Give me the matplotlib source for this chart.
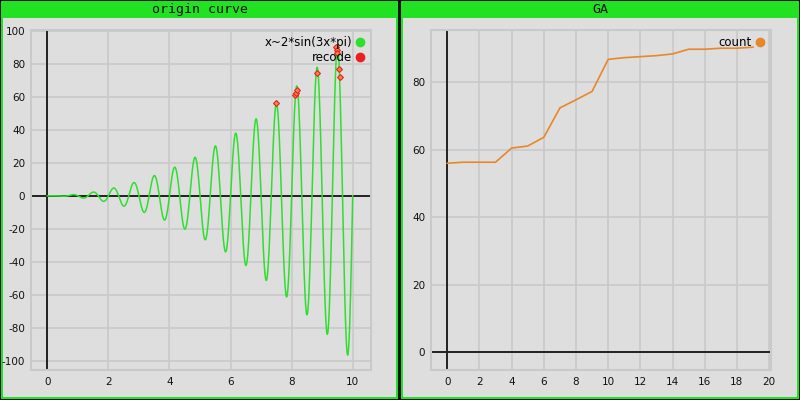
import numpy as np
import matplotlib
matplotlib.use("Agg")
import matplotlib.pyplot as plt
from matplotlib.patches import Rectangle
from matplotlib.lines import Line2D

plt.rcParams["axes.unicode_minus"] = False

# =========================================================
# DATA
# =========================================================
# left panel: the function named in the legend
curve_x = np.linspace(0, 10, 1000)
curve_y = curve_x ** 2 * np.sin(3 * curve_x * np.pi)

recode_x = [7.49, 8.12, 8.15, 8.19, 8.84, 9.44, 9.47, 9.49, 9.56, 9.58]
recode_y = [56.2, 61.0, 62.5, 64.0, 74.6, 90.0, 88.5, 86.5, 76.9, 72.2]

# right panel: GA best value per generation
ga_gen = list(range(20))
ga_count = [56.0, 56.3, 56.3, 56.3, 60.5, 61.1, 63.7, 72.4, 74.8, 77.3,
            86.8, 87.3, 87.6, 87.9, 88.4, 89.8, 89.8, 90.1, 90.1, 90.4]

W, H = 800, 400
GREEN = "#22e022"
BG = "#dedede"
GRID = "#c9c9c9"
AXIS = "#222222"


def px_box(x1, y1, x2, y2):
    # pixel box (top-left origin) -> figure fraction rect
    return (x1 / W, 1 - y2 / H), (x2 - x1) / W, (y2 - y1) / H


fig = plt.figure(figsize=(8, 4), dpi=100, facecolor="#111111")


def add_panel(x1, x2, title):
    xy, w, h = px_box(x1, 1, x2, 399)
    fig.patches.append(Rectangle(xy, w, h, transform=fig.transFigure,
                                 facecolor=GREEN, edgecolor="none", zorder=-2))
    xy, w, h = px_box(x1 + 2, 18, x2 - 2, 397)
    fig.patches.append(Rectangle(xy, w, h, transform=fig.transFigure,
                                 facecolor=BG, edgecolor="none", zorder=-1))
    fig.text((x1 + x2) / 2 / W, 1 - 9.5 / H, title, ha="center", va="center",
             family="DejaVu Sans Mono", fontsize=9.5, color="#111111")


add_panel(1, 398, "origin curve")
add_panel(401, 799, "GA")


def style_axes(ax, xlim, ylim, xticks, yticks):
    ax.set_facecolor(BG)
    ax.set_xlim(*xlim)
    ax.set_ylim(*ylim)
    ax.set_xticks(xticks)
    ax.set_yticks(yticks)
    ax.grid(True, color=GRID, linewidth=1.2)
    ax.set_axisbelow(True)
    for s in ax.spines.values():
        s.set_color(GRID)
        s.set_linewidth(1.5)
    ax.tick_params(length=0, labelsize=7.5, colors="#111111")
    ax.tick_params(axis="y", pad=4)
    ax.tick_params(axis="x", pad=5)
    ax.axhline(0, color=AXIS, linewidth=1.4, zorder=1)
    ax.axvline(0, color=AXIS, linewidth=1.4, zorder=1)


# =========================================================
# LEFT: origin curve
# =========================================================
ax1 = fig.add_axes([30.7 / W, 0.075, 340 / W, 0.85])
style_axes(ax1, (-0.545, 10.59), (-105.7, 100.6),
           np.arange(0, 11, 2), np.arange(-100, 101, 20))
ax1.plot(curve_x, curve_y, color="#2ee02e", linewidth=1.1, zorder=2)
ax1.plot(recode_x, recode_y, linestyle="none", marker="D", markersize=3,
         markerfacecolor="#f08a40", markeredgecolor="#e82020",
         markeredgewidth=0.8, zorder=3)

h1 = [Line2D([], [], linestyle="none", marker="o", markersize=6,
             color="#2ee02e"),
      Line2D([], [], linestyle="none", marker="o", markersize=6,
             color="#e82020")]
ax1.legend(h1, ["x~2*sin(3x*pi)", "recode"], loc="upper right",
           markerfirst=False, frameon=False, fontsize=8.5,
           handlelength=0.8, handletextpad=0.3, labelspacing=0.15,
           borderaxespad=0.2, borderpad=0.3)

# =========================================================
# RIGHT: GA
# =========================================================
ax2 = fig.add_axes([430.7 / W, 0.075, 340 / W, 0.85])
style_axes(ax2, (-1.03, 20.1), (-5.3, 95.5),
           np.arange(0, 21, 2), np.arange(0, 81, 20))
ax2.plot(ga_gen, ga_count, color="#e8872a", linewidth=1.2, zorder=2)

h2 = [Line2D([], [], linestyle="none", marker="o", markersize=6,
             color="#e8872a")]
ax2.legend(h2, ["count"], loc="upper right", markerfirst=False,
           frameon=False, fontsize=8.5, handlelength=0.8,
           handletextpad=0.3, borderaxespad=0.2, borderpad=0.3)

fig.savefig("out.png", dpi=100, facecolor=fig.get_facecolor())
